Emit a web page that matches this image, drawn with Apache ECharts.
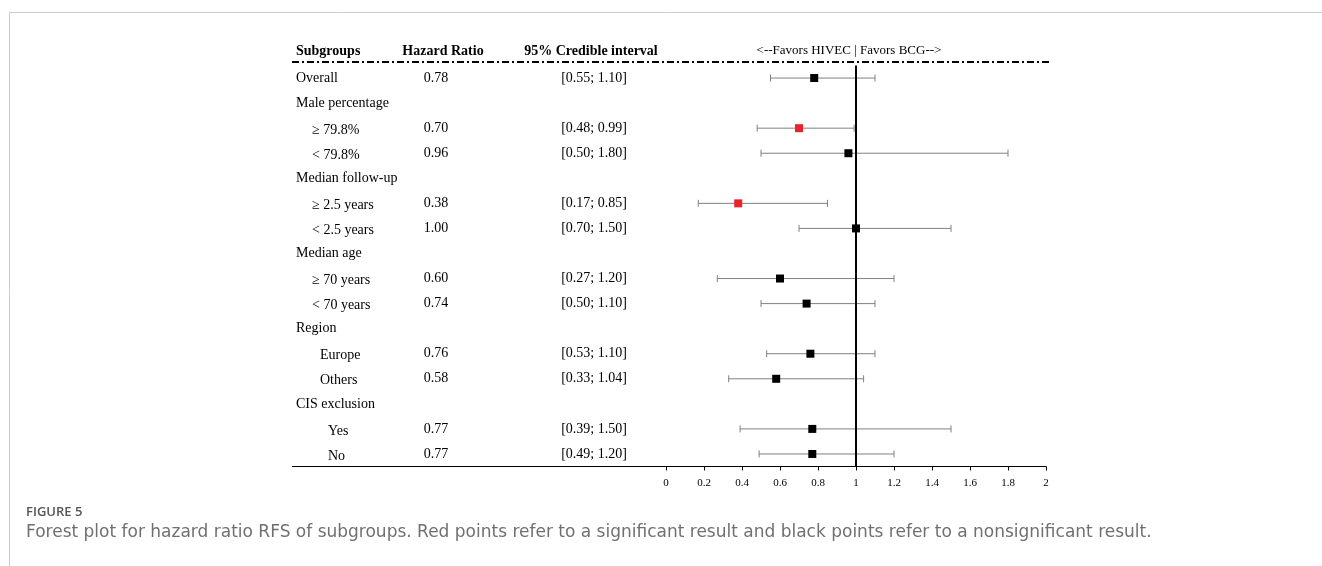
<!DOCTYPE html>
<html>
<head>
<meta charset="utf-8">
<script src="https://cdn.jsdelivr.net/npm/echarts@6/dist/echarts.min.js"></script>
<style>
html,body{margin:0;padding:0;background:#fff;}
#chart{width:1322px;height:566px;}
</style>
</head>
<body>
<div id="chart"></div>
<script>
// ---- data ----
var subgroups = ['Overall','Male percentage','\u2265 79.8%','< 79.8%','Median follow-up','\u2265 2.5 years','< 2.5 years','Median age','\u2265 70 years','< 70 years','Region','Europe','Others','CIS exclusion','Yes','No'];
var hazardRatio = [0.78,null,0.70,0.96,null,0.38,1.00,null,0.60,0.74,null,0.76,0.58,null,0.77,0.77];
var ciLower = [0.55,null,0.48,0.50,null,0.17,0.70,null,0.27,0.50,null,0.53,0.33,null,0.39,0.49];
var ciUpper = [1.10,null,0.99,1.80,null,0.85,1.50,null,1.20,1.10,null,1.10,1.04,null,1.50,1.20];
var xTicks = [0,0.2,0.4,0.6,0.8,1,1.2,1.4,1.6,1.8,2];
var headers = ['Subgroups','Hazard Ratio','95% Credible interval','<--Favors HIVEC | Favors BCG-->'];
var captionTitle = 'FIGURE 5';
var captionText = 'Forest plot for hazard ratio RFS of subgroups. Red points refer to a significant result and black points refer to a nonsignificant result.';

// ---- layout (styles only) ----
var rowIndent = ['h','h','a','a','h','a','a','h','a','a','h','b','b','h','c','c'];
var serif = 'Liberation Serif';

var idx = subgroups.map(function(_, i){ return i; });
var pointData = [];
var barData = [];
idx.forEach(function(i){
  if (hazardRatio[i] != null) {
    var sig = ciUpper[i] < 1 || ciLower[i] > 1;
    pointData.push({value:[hazardRatio[i], i], itemStyle:{color: sig ? '#e8232a' : '#000', opacity:1}});
    barData.push([ciLower[i], ciUpper[i], i]);
  }
});

function catAxis(margin, align, formatter, rich){
  return {
    type:'category', data: idx, inverse:true, position:'left', gridIndex:0,
    axisLine:{show:false}, axisTick:{show:false}, splitLine:{show:false},
    axisLabel:{show:true, interval:0, margin:margin, align:align, formatter:formatter,
      fontFamily:serif, fontSize:14, color:'#000', rich:rich}
  };
}

var chart = echarts.init(document.getElementById('chart'));
var option = {
  animation:false,
  grid:{left:666, right:276, top:65.5, height:401},
  xAxis:{
    type:'value', min:0, max:2, interval:0.2,
    axisLine:{show:true, lineStyle:{color:'#000', width:1}},
    axisTick:{show:true, length:4, lineStyle:{color:'#000'}},
    splitLine:{show:false},
    axisLabel:{margin:11, fontFamily:serif, fontSize:11, color:'#000',
      formatter:function(v){ var k = xTicks.indexOf(Math.round(v*10)/10); return k>=0 ? String(xTicks[k]) : ''; }}
  },
  yAxis:[
    {type:'category', data: idx, inverse:true, show:false},
    catAxis(370, 'left', function(v, i){ return '{' + rowIndent[i] + '|' + subgroups[i] + '}'; },
      {h:{fontFamily:serif,fontSize:14,color:'#000'},
       a:{fontFamily:serif,fontSize:14,color:'#000',padding:[4,0,0,16]},
       b:{fontFamily:serif,fontSize:14,color:'#000',padding:[4,0,0,24]},
       c:{fontFamily:serif,fontSize:14,color:'#000',padding:[4,0,0,32]}}),
    catAxis(230, 'center', function(v, i){ return hazardRatio[i]==null ? '' : hazardRatio[i].toFixed(2); }),
    catAxis(72, 'center', function(v, i){ return hazardRatio[i]==null ? '' : '[' + ciLower[i].toFixed(2) + '; ' + ciUpper[i].toFixed(2) + ']'; })
  ],
  series:[
    {
      type:'custom', xAxisIndex:0, yAxisIndex:0, z:2,
      data: barData,
      encode:{x:[0,1], y:2},
      renderItem:function(params, api){
        var y = api.value(2);
        var p1 = api.coord([api.value(0), y]);
        var p2 = api.coord([api.value(1), y]);
        var st = {stroke:'#808080', lineWidth:1};
        var h = 3.5;
        return {type:'group', children:[
          {type:'line', shape:{x1:p1[0], y1:p1[1], x2:p2[0], y2:p2[1]}, style:st},
          {type:'line', shape:{x1:p1[0], y1:p1[1]-h, x2:p1[0], y2:p1[1]+h}, style:st},
          {type:'line', shape:{x1:p2[0], y1:p2[1]-h, x2:p2[0], y2:p2[1]+h}, style:st}
        ]};
      }
    },
    {
      type:'scatter', xAxisIndex:0, yAxisIndex:0, z:4,
      symbol:'rect', symbolSize:8,
      itemStyle:{opacity:1},
      data: pointData,
      markLine:{
        silent:true, symbol:['none','none'], label:{show:false},
        lineStyle:{color:'#000', width:2, type:'solid'},
        data:[{xAxis:1}]
      }
    }
  ],
  graphic:[
    {type:'line', shape:{x1:9.5, y1:12.5, x2:1322, y2:12.5}, style:{stroke:'#cccccc', lineWidth:1}},
    {type:'line', shape:{x1:9.5, y1:12.5, x2:9.5, y2:566}, style:{stroke:'#cccccc', lineWidth:1}},
    {type:'line', shape:{x1:292, y1:62, x2:1050, y2:62}, style:{stroke:'#000', lineWidth:2, lineDash:[7,3,2,3]}},
    {type:'line', shape:{x1:292, y1:466.5, x2:666, y2:466.5}, style:{stroke:'#000', lineWidth:1}},
    {type:'text', x:296, y:51, style:{text:headers[0], font:'bold 14px "Liberation Serif"', fill:'#000', textVerticalAlign:'middle'}},
    {type:'text', x:443, y:51, style:{text:headers[1], font:'bold 14px "Liberation Serif"', fill:'#000', textAlign:'center', textVerticalAlign:'middle'}},
    {type:'text', x:591, y:51, style:{text:headers[2], font:'bold 14px "Liberation Serif"', fill:'#000', textAlign:'center', textVerticalAlign:'middle'}},
    {type:'text', x:849, y:51, style:{text:headers[3], font:'13px "Liberation Serif"', fill:'#000', textAlign:'center', textVerticalAlign:'middle'}},
    {type:'text', x:26, y:512, style:{text:captionTitle, font:'600 13px "Open Sans"', fill:'#555', textVerticalAlign:'middle'}},
    {type:'text', x:26, y:533, style:{text:captionText, font:'17px "DejaVu Sans"', fill:'#707070', textVerticalAlign:'middle'}}
  ]
};
chart.setOption(option);
</script>
</body>
</html>
